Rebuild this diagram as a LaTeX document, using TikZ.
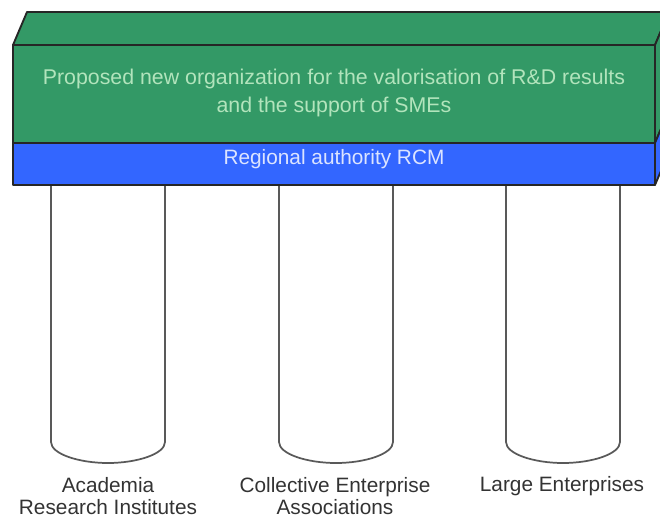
\documentclass[tikz,border=0pt]{standalone}
\usepackage{fontspec}
\setmainfont{Liberation Sans}
\usetikzlibrary{calc}
\definecolor{roofgreen}{HTML}{339966}
\definecolor{bandblue}{HTML}{3366FF}
\definecolor{rooftxt}{HTML}{B2E4BC}
\definecolor{bandtxt}{HTML}{DCE4FF}
\tikzset{
	>=latex,
	roof/.style={draw=black!85, line width=1.4pt, line join=round},
	pillar/.style={draw=black!65, line width=1.3pt, fill=white},
	caption/.style={text=black!80, align=center, font=\fontsize{15.6}{17}\selectfont}
}

\begin{document}
\begin{tikzpicture}[x=0.75pt, y=-0.75pt]
			\useasboundingbox (0,0) rectangle (660,521);
			\clip (0,0) rectangle (660,521);
			% the three pillars
			\foreach \x in {51,279,506}
				\draw [pillar] (\x,180) -- (\x,442) .. controls (\x,454) and (\x+28,463) .. (\x+57,463) .. controls (\x+86,463) and (\x+114,454) .. (\x+114,442) -- (\x+114,180);
			% roof: top face, side face, front face and band
			\draw [roof, fill=roofgreen] (13,45) -- (27,12) -- (669,12) -- (655,45) -- cycle;
			\draw [roof, fill=roofgreen] (655,45) -- (669,12) -- (669,110) -- (655,143) -- cycle;
			\draw [roof, fill=bandblue] (655,143) -- (669,110) -- (669,152) -- (655,185) -- cycle;
			\draw [roof, fill=roofgreen] (13,45) rectangle (655,143);
			\draw [roof, fill=bandblue] (13,143) rectangle (655,185);
			\node [text=rooftxt, align=center, font=\fontsize{16}{21.5}\selectfont] (org) at (334,93) {Proposed new organization for the valorisation of R\&D results\\and the support of SMEs};
			\node [text=bandtxt, font=\fontsize{15.6}{18}\selectfont] (rcm) at (334,159) {Regional authority RCM};
			% labels under the pillars
			\node [caption] (acad) at (108,496) {Academia\\Research Institutes};
			\node [caption] (coll) at (335,496) {Collective Enterprise\\Associations};
			\node [caption] (large) at (562,486) {Large Enterprises};
		\end{tikzpicture}
\end{document}
